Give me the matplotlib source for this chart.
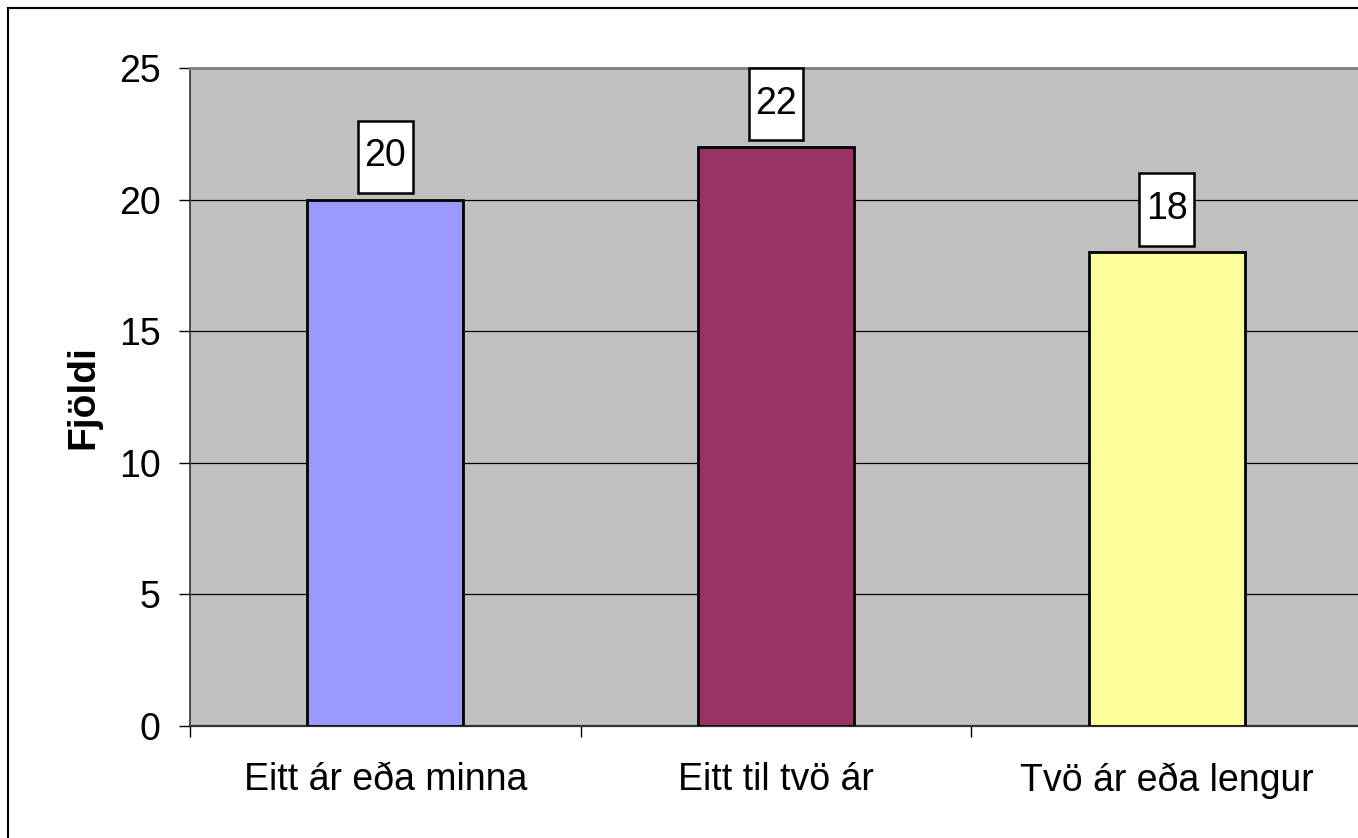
import matplotlib
matplotlib.use("Agg")
import matplotlib.pyplot as plt
from matplotlib.patches import Rectangle

# data
categories = ["Eitt ár eða minna", "Eitt til tvö ár", "Tvö ár eða lengur"]
counts = [20, 22, 18]
colors = ["#9999FF", "#993366", "#FFFF99"]
yticks = [0, 5, 10, 15, 20, 25]

plt.rcParams["font.family"] = ["Liberation Sans", "DejaVu Sans"]

fig = plt.figure(figsize=(13.58, 8.38), dpi=100)
ax = fig.add_axes([190 / 1358, 1 - 726 / 838, 1172 / 1358, 658 / 838])
ax.set_facecolor("#C0C0C0")

x = list(range(len(categories)))
ax.bar(x, counts, width=0.4, color=colors, edgecolor="black", linewidth=2.0, zorder=3)

ax.set_xlim(-0.5, len(categories) - 0.5)
ax.set_ylim(0, 25)
ax.set_yticks(yticks)
ax.set_yticklabels([str(t) for t in yticks])
ax.tick_params(axis="y", direction="out", length=8, width=1, pad=13, labelsize=27)

# category boundaries as major ticks, labels on minor ticks
ax.set_xticks([i - 0.5 for i in range(len(categories) + 1)])
ax.set_xticklabels([])
ax.set_xticks(x, minor=True)
ax.set_xticklabels(categories, minor=True)
ax.tick_params(axis="x", which="major", direction="out", length=8, width=1)
ax.tick_params(axis="x", which="minor", length=0, pad=26, labelsize=27)

ax.yaxis.grid(True, color="black", linewidth=0.9, zorder=1)
ax.set_axisbelow(True)

for s in ["top", "right"]:
    ax.spines[s].set_color("#808080")
    ax.spines[s].set_linewidth(2)
ax.spines["left"].set_color("#333333")
ax.spines["bottom"].set_color("#333333")
ax.spines["left"].set_linewidth(1.2)
ax.spines["bottom"].set_linewidth(1.6)

ax.set_ylabel("Fjöldi", fontsize=28, fontweight="bold", labelpad=13)

# value labels in white boxes
bw, bh, gap = 0.14, 2.75, 0.25
for xi, v in zip(x, counts):
    ax.add_patch(Rectangle((xi - bw / 2, v + gap), bw, bh, facecolor="white",
                           edgecolor="black", linewidth=1.8, zorder=4, clip_on=False))
    ax.text(xi, v + gap + bh / 2 + 0.17, str(v), ha="center", va="center_baseline",
            fontsize=27, zorder=5)

# outer chart frame
fig.patches.append(Rectangle((8 / 1358, -0.1), 1.2, 1 - 8 / 838 + 0.1,
                             transform=fig.transFigure, fill=False,
                             edgecolor="black", linewidth=1.5))

fig.savefig("out.png", dpi=100)
